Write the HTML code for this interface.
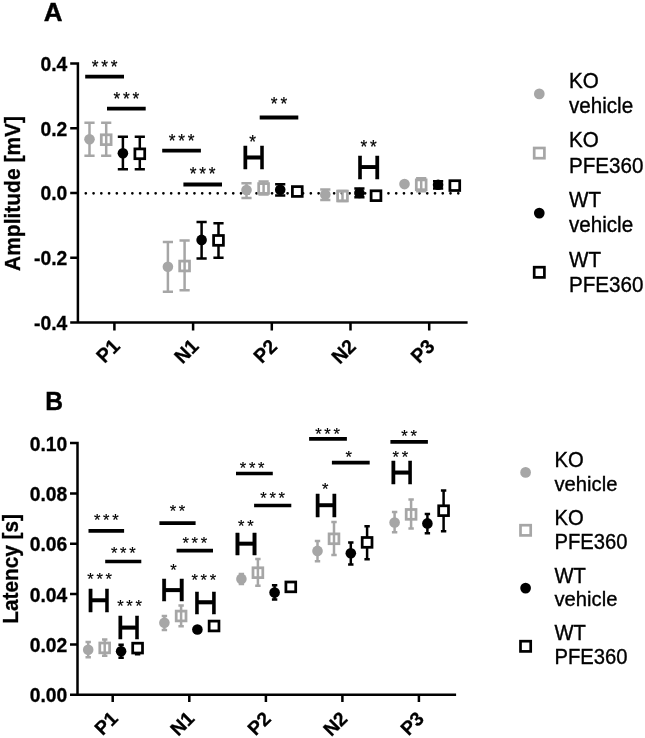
<!DOCTYPE html>
<html lang="en"><head><meta charset="utf-8"><title>Figure</title>
<style>html,body{margin:0;padding:0;background:#fff}svg{display:block}text{font-family:"Liberation Sans", sans-serif;fill:#000}</style></head><body>
<svg width="645" height="738" viewBox="0 0 645 738">
<rect width="645" height="738" fill="#fff"/>
<g id="panelA">
<text transform="translate(43.80 20.90) scale(1 1.01)" font-size="26.00" font-weight="bold" stroke="#000" stroke-width="0.4">A</text>
<path d="M85.8 193.3H459" stroke="#000" stroke-width="2.7" stroke-linecap="round" stroke-dasharray="0.01 7.75" fill="none"/>
<path d="M77.9 62.25V322.4H467.6M70.2 63.5H77.9M70.2 128.3H77.9M70.2 193.0H77.9M70.2 257.7H77.9M70.2 322.4H77.9M114.4 322.4V330.5M193.1 322.4V330.5M271.8 322.4V330.5M350.5 322.4V330.5M429.2 322.4V330.5" stroke="#000" stroke-width="2.5" fill="none"/>
<text transform="translate(67.25 70.70) scale(1 1.03)" font-size="19.30" font-weight="bold" text-anchor="end" stroke="#000" stroke-width="0.3">0.4</text>
<text transform="translate(67.25 135.50) scale(1 1.03)" font-size="19.30" font-weight="bold" text-anchor="end" stroke="#000" stroke-width="0.3">0.2</text>
<text transform="translate(67.25 200.20) scale(1 1.03)" font-size="19.30" font-weight="bold" text-anchor="end" stroke="#000" stroke-width="0.3">0.0</text>
<text transform="translate(67.25 264.90) scale(1 1.03)" font-size="19.30" font-weight="bold" text-anchor="end" stroke="#000" stroke-width="0.3">-0.2</text>
<text transform="translate(67.25 329.60) scale(1 1.03)" font-size="19.30" font-weight="bold" text-anchor="end" stroke="#000" stroke-width="0.3">-0.4</text>
<text transform="translate(121.20 347.40) rotate(-45) scale(1 1.03)" font-size="19.30" font-weight="bold" text-anchor="end" stroke="#000" stroke-width="0.3">P1</text>
<text transform="translate(199.90 347.40) rotate(-45) scale(1 1.03)" font-size="19.30" font-weight="bold" text-anchor="end" stroke="#000" stroke-width="0.3">N1</text>
<text transform="translate(278.40 347.60) rotate(-45) scale(1 1.03)" font-size="19.30" font-weight="bold" text-anchor="end" stroke="#000" stroke-width="0.3">P2</text>
<text transform="translate(357.10 347.60) rotate(-45) scale(1 1.03)" font-size="19.30" font-weight="bold" text-anchor="end" stroke="#000" stroke-width="0.3">N2</text>
<text transform="translate(435.80 347.60) rotate(-45) scale(1 1.03)" font-size="19.30" font-weight="bold" text-anchor="end" stroke="#000" stroke-width="0.3">P3</text>
<text transform="translate(20.30 271.00) rotate(-90) scale(1 1.07)" font-size="21.00" font-weight="bold" stroke="#000" stroke-width="0.3">Amplitude [mV]</text>
<path d="M89.50 122.80V155.70M84.40 122.80H94.60M84.40 155.70H94.60" stroke="#a6a6a6" stroke-width="2.50" fill="none"/>
<circle cx="89.50" cy="139.20" r="5.30" fill="#a6a6a6"/>
<rect x="101.30" y="134.80" width="9.80" height="9.80" fill="none" stroke="#a6a6a6" stroke-width="2.75"/>
<path d="M106.20 122.80V155.70M101.10 122.80H111.30M101.10 155.70H111.30" stroke="#a6a6a6" stroke-width="2.50" fill="none"/>
<path d="M122.90 136.80V169.20M117.80 136.80H128.00M117.80 169.20H128.00" stroke="#000" stroke-width="2.50" fill="none"/>
<circle cx="122.90" cy="153.30" r="5.30" fill="#000"/>
<path d="M139.80 136.80V169.20M134.70 136.80H144.90M134.70 169.20H144.90" stroke="#000" stroke-width="2.50" fill="none"/>
<rect x="134.90" y="148.90" width="9.80" height="9.80" fill="#fff" stroke="#000" stroke-width="2.75"/>
<path d="M167.90 241.90V291.70M162.80 241.90H173.00M162.80 291.70H173.00" stroke="#a6a6a6" stroke-width="2.50" fill="none"/>
<circle cx="167.90" cy="266.80" r="5.30" fill="#a6a6a6"/>
<rect x="179.70" y="261.10" width="9.80" height="9.80" fill="none" stroke="#a6a6a6" stroke-width="2.75"/>
<path d="M184.60 240.60V290.20M179.50 240.60H189.70M179.50 290.20H189.70" stroke="#a6a6a6" stroke-width="2.50" fill="none"/>
<path d="M201.60 221.90V258.60M196.50 221.90H206.70M196.50 258.60H206.70" stroke="#000" stroke-width="2.50" fill="none"/>
<circle cx="201.60" cy="239.90" r="5.30" fill="#000"/>
<path d="M218.50 223.20V257.80M213.40 223.20H223.60M213.40 257.80H223.60" stroke="#000" stroke-width="2.50" fill="none"/>
<rect x="213.60" y="235.50" width="9.80" height="9.80" fill="#fff" stroke="#000" stroke-width="2.75"/>
<path d="M246.50 183.30V197.90M241.40 183.30H251.60M241.40 197.90H251.60" stroke="#a6a6a6" stroke-width="2.50" fill="none"/>
<circle cx="246.50" cy="190.00" r="5.30" fill="#a6a6a6"/>
<rect x="258.70" y="183.60" width="9.80" height="9.80" fill="none" stroke="#a6a6a6" stroke-width="2.75"/>
<path d="M263.60 181.60V194.40M258.50 181.60H268.70M258.50 194.40H268.70" stroke="#a6a6a6" stroke-width="2.50" fill="none"/>
<path d="M280.20 184.30V195.50M275.10 184.30H285.30M275.10 195.50H285.30" stroke="#000" stroke-width="2.50" fill="none"/>
<circle cx="280.20" cy="189.70" r="5.30" fill="#000"/>
<rect x="292.40" y="186.60" width="9.80" height="9.80" fill="#fff" stroke="#000" stroke-width="2.75"/>
<path d="M325.30 189.40V200.00M320.20 189.40H330.40M320.20 200.00H330.40" stroke="#a6a6a6" stroke-width="2.50" fill="none"/>
<circle cx="325.30" cy="194.50" r="5.30" fill="#a6a6a6"/>
<rect x="337.60" y="191.10" width="9.80" height="9.80" fill="none" stroke="#a6a6a6" stroke-width="2.75"/>
<path d="M342.50 191.10V200.90M337.40 191.10H347.60M337.40 200.90H347.60" stroke="#a6a6a6" stroke-width="2.50" fill="none"/>
<path d="M359.40 188.60V197.20M354.30 188.60H364.50M354.30 197.20H364.50" stroke="#000" stroke-width="2.50" fill="none"/>
<circle cx="359.40" cy="193.00" r="5.30" fill="#000"/>
<rect x="371.10" y="190.80" width="9.80" height="9.80" fill="#fff" stroke="#000" stroke-width="2.75"/>
<circle cx="404.50" cy="184.10" r="5.30" fill="#a6a6a6"/>
<rect x="416.30" y="179.90" width="9.80" height="9.80" fill="none" stroke="#a6a6a6" stroke-width="2.75"/>
<path d="M421.20 178.30V191.30M416.10 178.30H426.30M416.10 191.30H426.30" stroke="#a6a6a6" stroke-width="2.50" fill="none"/>
<path d="M438.10 181.20V188.60M433.00 181.20H443.20M433.00 188.60H443.20" stroke="#000" stroke-width="2.50" fill="none"/>
<circle cx="438.10" cy="184.70" r="5.30" fill="#000"/>
<rect x="449.90" y="180.70" width="9.80" height="9.80" fill="#fff" stroke="#000" stroke-width="2.75"/>
<path d="M85.20 76.60H124.00" stroke="#000" stroke-width="3.80"/>
<text transform="translate(106.00 72.88) scale(1 1.04)" font-size="17.30" letter-spacing="2.80" text-anchor="middle" stroke="#000" stroke-width="0.2">***</text>
<path d="M107.00 108.60H145.70" stroke="#000" stroke-width="3.80"/>
<text transform="translate(127.75 104.88) scale(1 1.04)" font-size="17.30" letter-spacing="2.80" text-anchor="middle" stroke="#000" stroke-width="0.2">***</text>
<path d="M162.20 150.60H200.90" stroke="#000" stroke-width="3.80"/>
<text transform="translate(182.95 147.18) scale(1 1.04)" font-size="17.30" letter-spacing="2.80" text-anchor="middle" stroke="#000" stroke-width="0.2">***</text>
<path d="M183.40 184.50H222.00" stroke="#000" stroke-width="3.80"/>
<text transform="translate(204.10 180.28) scale(1 1.04)" font-size="17.30" letter-spacing="2.80" text-anchor="middle" stroke="#000" stroke-width="0.2">***</text>
<path d="M259.70 117.50H298.30" stroke="#000" stroke-width="3.80"/>
<text transform="translate(280.40 109.88) scale(1 1.04)" font-size="17.30" letter-spacing="2.80" text-anchor="middle" stroke="#000" stroke-width="0.2">**</text>
<text transform="translate(253.75 169.15) scale(1.095 1)" font-size="32.70" text-anchor="middle" stroke="#000" stroke-width="0.3">H</text>
<path d="M245.10 157.56H262.40" stroke="#000" stroke-width="3.9"/>
<text transform="translate(254.10 148.38) scale(1 1.04)" font-size="17.30" letter-spacing="2.80" text-anchor="middle" stroke="#000" stroke-width="0.2">*</text>
<text transform="translate(368.60 178.95) scale(1.104 1)" font-size="33.58" text-anchor="middle" stroke="#000" stroke-width="0.3">H</text>
<path d="M359.60 167.05H377.60" stroke="#000" stroke-width="3.9"/>
<text transform="translate(370.05 152.98) scale(1 1.04)" font-size="17.30" letter-spacing="2.80" text-anchor="middle" stroke="#000" stroke-width="0.2">**</text>
<circle cx="539.30" cy="93.90" r="5.35" fill="#a6a6a6"/>
<text transform="translate(569.00 87.90) scale(1 1.09)" font-size="20.60" stroke="#000" stroke-width="0.35">KO</text>
<text transform="translate(569.00 113.10) scale(1 1.05)" font-size="20.60" stroke="#000" stroke-width="0.35">vehicle</text>
<rect x="534.20" y="148.00" width="10.20" height="10.20" fill="none" stroke="#a6a6a6" stroke-width="2.70"/>
<text transform="translate(569.00 147.40) scale(1 1.09)" font-size="20.60" stroke="#000" stroke-width="0.35">KO</text>
<text transform="translate(569.00 172.50) scale(1 1.09)" font-size="20.60" stroke="#000" stroke-width="0.35">PFE360</text>
<circle cx="539.30" cy="213.10" r="5.35" fill="#000"/>
<text transform="translate(569.00 207.00) scale(1 1.09)" font-size="20.60" stroke="#000" stroke-width="0.35">WT</text>
<text transform="translate(569.00 232.10) scale(1 1.05)" font-size="20.60" stroke="#000" stroke-width="0.35">vehicle</text>
<rect x="534.20" y="267.20" width="10.20" height="10.20" fill="none" stroke="#000" stroke-width="2.70"/>
<text transform="translate(569.00 266.50) scale(1 1.09)" font-size="20.60" stroke="#000" stroke-width="0.35">WT</text>
<text transform="translate(569.00 291.60) scale(1 1.09)" font-size="20.60" stroke="#000" stroke-width="0.35">PFE360</text>
</g>
<g id="panelB">
<text transform="translate(45.30 410.30) scale(1 1.07)" font-size="24.60" font-weight="bold" stroke="#000" stroke-width="0.4">B</text>
<path d="M77.5 441.85V694.8H456.1M70 443.1H77.5M70 493.4H77.5M70 543.8H77.5M70 594.1H77.5M70 644.5H77.5M70 694.8H77.5M112.7 694.8V702M189.3 694.8V702M265.9 694.8V702M342.4 694.8V702M418.9 694.8V702" stroke="#000" stroke-width="2.5" fill="none"/>
<text transform="translate(67.20 450.60) scale(1 1.0)" font-size="19.30" font-weight="bold" text-anchor="end" stroke="#000" stroke-width="0.3">0.10</text>
<text transform="translate(67.20 500.90) scale(1 1.0)" font-size="19.30" font-weight="bold" text-anchor="end" stroke="#000" stroke-width="0.3">0.08</text>
<text transform="translate(67.20 551.30) scale(1 1.0)" font-size="19.30" font-weight="bold" text-anchor="end" stroke="#000" stroke-width="0.3">0.06</text>
<text transform="translate(67.20 601.60) scale(1 1.0)" font-size="19.30" font-weight="bold" text-anchor="end" stroke="#000" stroke-width="0.3">0.04</text>
<text transform="translate(67.20 652.00) scale(1 1.0)" font-size="19.30" font-weight="bold" text-anchor="end" stroke="#000" stroke-width="0.3">0.02</text>
<text transform="translate(67.20 702.30) scale(1 1.0)" font-size="19.30" font-weight="bold" text-anchor="end" stroke="#000" stroke-width="0.3">0.00</text>
<text transform="translate(119.10 719.60) rotate(-45) scale(1 1.0)" font-size="19.30" font-weight="bold" text-anchor="end" stroke="#000" stroke-width="0.3">P1</text>
<text transform="translate(195.70 719.60) rotate(-45) scale(1 1.0)" font-size="19.30" font-weight="bold" text-anchor="end" stroke="#000" stroke-width="0.3">N1</text>
<text transform="translate(272.10 719.80) rotate(-45) scale(1 1.0)" font-size="19.30" font-weight="bold" text-anchor="end" stroke="#000" stroke-width="0.3">P2</text>
<text transform="translate(348.60 719.80) rotate(-45) scale(1 1.0)" font-size="19.30" font-weight="bold" text-anchor="end" stroke="#000" stroke-width="0.3">N2</text>
<text transform="translate(425.10 719.80) rotate(-45) scale(1 1.0)" font-size="19.30" font-weight="bold" text-anchor="end" stroke="#000" stroke-width="0.3">P3</text>
<text transform="translate(17.90 623.80) rotate(-90) scale(1 1.03)" font-size="20.80" font-weight="bold" stroke="#000" stroke-width="0.3">Latency [s]</text>
<path d="M88.20 642.10V657.20M85.50 642.10H90.90M85.50 657.20H90.90" stroke="#a6a6a6" stroke-width="2.50" fill="none"/>
<circle cx="88.20" cy="649.80" r="5.30" fill="#a6a6a6"/>
<rect x="99.80" y="643.00" width="9.80" height="9.80" fill="none" stroke="#a6a6a6" stroke-width="2.75"/>
<path d="M104.70 639.40V655.80M102.00 639.40H107.40M102.00 655.80H107.40" stroke="#a6a6a6" stroke-width="2.50" fill="none"/>
<path d="M121.10 644.80V657.70M118.40 644.80H123.80M118.40 657.70H123.80" stroke="#000" stroke-width="2.50" fill="none"/>
<circle cx="121.10" cy="651.30" r="5.30" fill="#000"/>
<path d="M137.60 645.00V654.30M134.90 645.00H140.30M134.90 654.30H140.30" stroke="#000" stroke-width="2.50" fill="none"/>
<rect x="132.70" y="643.20" width="9.80" height="9.80" fill="#fff" stroke="#000" stroke-width="2.75"/>
<path d="M164.40 615.90V630.00M161.70 615.90H167.10M161.70 630.00H167.10" stroke="#a6a6a6" stroke-width="2.50" fill="none"/>
<circle cx="164.40" cy="622.80" r="5.30" fill="#a6a6a6"/>
<rect x="176.20" y="611.10" width="9.80" height="9.80" fill="none" stroke="#a6a6a6" stroke-width="2.75"/>
<path d="M181.10 605.50V626.30M178.40 605.50H183.80M178.40 626.30H183.80" stroke="#a6a6a6" stroke-width="2.50" fill="none"/>
<circle cx="197.40" cy="629.50" r="5.30" fill="#000"/>
<rect x="209.15" y="621.10" width="9.80" height="9.80" fill="#fff" stroke="#000" stroke-width="2.75"/>
<path d="M241.40 574.00V584.00M238.70 574.00H244.10M238.70 584.00H244.10" stroke="#a6a6a6" stroke-width="2.50" fill="none"/>
<circle cx="241.40" cy="578.90" r="5.30" fill="#a6a6a6"/>
<rect x="253.00" y="567.80" width="9.80" height="9.80" fill="none" stroke="#a6a6a6" stroke-width="2.75"/>
<path d="M257.90 559.00V585.70M255.20 559.00H260.60M255.20 585.70H260.60" stroke="#a6a6a6" stroke-width="2.50" fill="none"/>
<path d="M274.60 585.20V599.40M271.90 585.20H277.30M271.90 599.40H277.30" stroke="#000" stroke-width="2.50" fill="none"/>
<circle cx="274.60" cy="592.60" r="5.30" fill="#000"/>
<rect x="285.90" y="582.00" width="9.80" height="9.80" fill="#fff" stroke="#000" stroke-width="2.75"/>
<path d="M317.50 541.00V561.20M314.80 541.00H320.20M314.80 561.20H320.20" stroke="#a6a6a6" stroke-width="2.50" fill="none"/>
<circle cx="317.50" cy="550.90" r="5.30" fill="#a6a6a6"/>
<rect x="329.10" y="533.90" width="9.80" height="9.80" fill="none" stroke="#a6a6a6" stroke-width="2.75"/>
<path d="M334.00 522.00V555.00M331.30 522.00H336.70M331.30 555.00H336.70" stroke="#a6a6a6" stroke-width="2.50" fill="none"/>
<path d="M350.80 542.40V564.60M348.10 542.40H353.50M348.10 564.60H353.50" stroke="#000" stroke-width="2.50" fill="none"/>
<circle cx="350.80" cy="553.30" r="5.30" fill="#000"/>
<path d="M367.10 526.20V559.20M364.40 526.20H369.80M364.40 559.20H369.80" stroke="#000" stroke-width="2.50" fill="none"/>
<rect x="362.20" y="537.50" width="9.80" height="9.80" fill="#fff" stroke="#000" stroke-width="2.75"/>
<path d="M394.60 512.10V532.30M391.90 512.10H397.30M391.90 532.30H397.30" stroke="#a6a6a6" stroke-width="2.50" fill="none"/>
<circle cx="394.60" cy="522.50" r="5.30" fill="#a6a6a6"/>
<rect x="406.20" y="509.50" width="9.80" height="9.80" fill="none" stroke="#a6a6a6" stroke-width="2.75"/>
<path d="M411.10 499.50V528.40M408.40 499.50H413.80M408.40 528.40H413.80" stroke="#a6a6a6" stroke-width="2.50" fill="none"/>
<path d="M427.40 514.10V533.20M424.70 514.10H430.10M424.70 533.20H430.10" stroke="#000" stroke-width="2.50" fill="none"/>
<circle cx="427.40" cy="523.40" r="5.30" fill="#000"/>
<path d="M443.60 490.60V531.20M440.90 490.60H446.30M440.90 531.20H446.30" stroke="#000" stroke-width="2.50" fill="none"/>
<rect x="438.70" y="505.80" width="9.80" height="9.80" fill="#fff" stroke="#000" stroke-width="2.75"/>
<path d="M88.50 530.90H124.10" stroke="#000" stroke-width="3.70"/>
<text transform="translate(107.64 525.76) scale(1 1.04)" font-size="16.57" letter-spacing="2.68" text-anchor="middle" stroke="#000" stroke-width="0.2">***</text>
<path d="M105.20 561.50H141.30" stroke="#000" stroke-width="3.70"/>
<text transform="translate(124.59 558.96) scale(1 1.04)" font-size="16.57" letter-spacing="2.68" text-anchor="middle" stroke="#000" stroke-width="0.2">***</text>
<path d="M159.40 523.20H195.60" stroke="#000" stroke-width="3.70"/>
<text transform="translate(178.84 516.66) scale(1 1.04)" font-size="16.57" letter-spacing="2.68" text-anchor="middle" stroke="#000" stroke-width="0.2">**</text>
<path d="M176.60 550.60H213.00" stroke="#000" stroke-width="3.70"/>
<text transform="translate(196.14 548.56) scale(1 1.04)" font-size="16.57" letter-spacing="2.68" text-anchor="middle" stroke="#000" stroke-width="0.2">***</text>
<path d="M236.00 473.50H272.80" stroke="#000" stroke-width="3.70"/>
<text transform="translate(253.44 474.26) scale(1 1.04)" font-size="16.57" letter-spacing="2.68" text-anchor="middle" stroke="#000" stroke-width="0.2">***</text>
<path d="M254.10 505.50H291.30" stroke="#000" stroke-width="3.70"/>
<text transform="translate(274.04 503.66) scale(1 1.04)" font-size="16.57" letter-spacing="2.68" text-anchor="middle" stroke="#000" stroke-width="0.2">***</text>
<path d="M309.10 438.80H346.90" stroke="#000" stroke-width="3.70"/>
<text transform="translate(328.84 439.56) scale(1 1.04)" font-size="16.57" letter-spacing="2.68" text-anchor="middle" stroke="#000" stroke-width="0.2">***</text>
<path d="M331.90 462.60H369.70" stroke="#000" stroke-width="3.70"/>
<text transform="translate(350.14 463.06) scale(1 1.04)" font-size="16.57" letter-spacing="2.68" text-anchor="middle" stroke="#000" stroke-width="0.2">*</text>
<path d="M390.40 441.80H427.90" stroke="#000" stroke-width="3.70"/>
<text transform="translate(410.49 442.16) scale(1 1.04)" font-size="16.57" letter-spacing="2.68" text-anchor="middle" stroke="#000" stroke-width="0.2">**</text>
<text transform="translate(98.80 611.95) scale(1.074 1)" font-size="32.85" text-anchor="middle" stroke="#000" stroke-width="0.3">H</text>
<path d="M90.30 600.31H107.30" stroke="#000" stroke-width="3.9"/>
<text transform="translate(100.94 585.46) scale(1 1.04)" font-size="16.57" letter-spacing="2.68" text-anchor="middle" stroke="#000" stroke-width="0.2">***</text>
<text transform="translate(128.75 639.45) scale(1.080 1)" font-size="33.14" text-anchor="middle" stroke="#000" stroke-width="0.3">H</text>
<path d="M120.10 627.70H137.40" stroke="#000" stroke-width="3.9"/>
<text transform="translate(130.84 612.36) scale(1 1.04)" font-size="16.57" letter-spacing="2.68" text-anchor="middle" stroke="#000" stroke-width="0.2">***</text>
<text transform="translate(172.82 601.35) scale(1.200 1)" font-size="31.54" text-anchor="middle" stroke="#000" stroke-width="0.3">H</text>
<path d="M163.60 590.17H182.05" stroke="#000" stroke-width="3.9"/>
<text transform="translate(174.74 575.76) scale(1 1.04)" font-size="16.57" letter-spacing="2.68" text-anchor="middle" stroke="#000" stroke-width="0.2">*</text>
<text transform="translate(205.48 613.55) scale(1.134 1)" font-size="32.12" text-anchor="middle" stroke="#000" stroke-width="0.3">H</text>
<path d="M196.65 602.16H214.30" stroke="#000" stroke-width="3.9"/>
<text transform="translate(205.14 586.36) scale(1 1.04)" font-size="16.57" letter-spacing="2.68" text-anchor="middle" stroke="#000" stroke-width="0.2">***</text>
<text transform="translate(246.10 554.85) scale(1.158 1)" font-size="31.69" text-anchor="middle" stroke="#000" stroke-width="0.3">H</text>
<path d="M237.20 543.62H255.00" stroke="#000" stroke-width="3.9"/>
<text transform="translate(247.19 531.56) scale(1 1.04)" font-size="16.57" letter-spacing="2.68" text-anchor="middle" stroke="#000" stroke-width="0.2">**</text>
<text transform="translate(326.00 517.15) scale(1.072 1)" font-size="33.58" text-anchor="middle" stroke="#000" stroke-width="0.3">H</text>
<path d="M317.30 505.25H334.70" stroke="#000" stroke-width="3.9"/>
<text transform="translate(326.54 495.36) scale(1 1.04)" font-size="16.57" letter-spacing="2.68" text-anchor="middle" stroke="#000" stroke-width="0.2">*</text>
<text transform="translate(401.70 484.35) scale(1.091 1)" font-size="32.99" text-anchor="middle" stroke="#000" stroke-width="0.3">H</text>
<path d="M393.00 472.65H410.40" stroke="#000" stroke-width="3.9"/>
<text transform="translate(401.74 463.36) scale(1 1.04)" font-size="16.57" letter-spacing="2.68" text-anchor="middle" stroke="#000" stroke-width="0.2">**</text>
<circle cx="525.60" cy="472.40" r="5.35" fill="#a6a6a6"/>
<text transform="translate(554.50 467.10) scale(1 1.05)" font-size="20.20" stroke="#000" stroke-width="0.35">KO</text>
<text transform="translate(554.50 491.30) scale(1 1.01)" font-size="20.20" stroke="#000" stroke-width="0.35">vehicle</text>
<rect x="520.50" y="525.20" width="10.20" height="10.20" fill="none" stroke="#a6a6a6" stroke-width="2.70"/>
<text transform="translate(554.50 524.80) scale(1 1.05)" font-size="20.20" stroke="#000" stroke-width="0.35">KO</text>
<text transform="translate(554.50 548.90) scale(1 1.05)" font-size="20.20" stroke="#000" stroke-width="0.35">PFE360</text>
<circle cx="525.60" cy="588.10" r="5.35" fill="#000"/>
<text transform="translate(554.50 582.50) scale(1 1.05)" font-size="20.20" stroke="#000" stroke-width="0.35">WT</text>
<text transform="translate(554.50 606.40) scale(1 1.01)" font-size="20.20" stroke="#000" stroke-width="0.35">vehicle</text>
<rect x="520.50" y="641.20" width="10.20" height="10.20" fill="none" stroke="#000" stroke-width="2.70"/>
<text transform="translate(554.50 640.20) scale(1 1.05)" font-size="20.20" stroke="#000" stroke-width="0.35">WT</text>
<text transform="translate(554.50 664.00) scale(1 1.05)" font-size="20.20" stroke="#000" stroke-width="0.35">PFE360</text>
</g>
</svg></body></html>
